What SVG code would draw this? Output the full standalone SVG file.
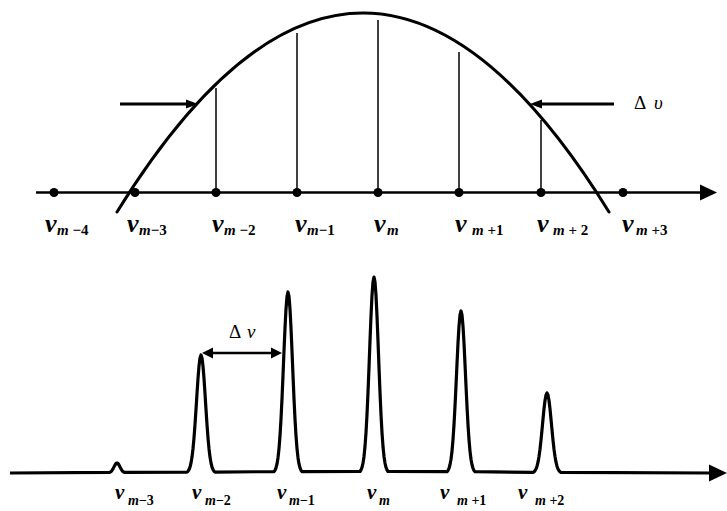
<svg xmlns="http://www.w3.org/2000/svg" width="727" height="511" viewBox="0 0 727 511">
<style>
.ax{stroke:#000;stroke-width:2.5;fill:none}
.thin{stroke:#000;stroke-width:1.5;fill:none}
.curve{stroke:#000;stroke-width:3;fill:none;stroke-linecap:round}
.spec{stroke:#000;stroke-width:3.2;fill:none;stroke-linejoin:round}
.arr{stroke:#000;stroke-width:3;fill:none}
.head{fill:#000;stroke:none}
.v{font-family:"Liberation Serif","Times New Roman",serif;font-style:italic;font-weight:bold;fill:#000}
.vt{font-size:26px}
.vb{font-size:21px}
.st{font-size:15px}
.sb{font-size:14px}
.n{font-style:normal}
.d{font-family:"Liberation Serif","Times New Roman",serif;font-size:19px;fill:#000}
.i{font-style:italic}
</style>

<g id="top-axis">
<line class="ax" x1="36" y1="192.5" x2="702" y2="192.5"/>
<polygon class="head" points="700,184.5 717,192.5 700,200.5"/>
<g fill="#000">
<circle cx="54" cy="192.5" r="4.5"/>
<circle cx="135" cy="192.5" r="4.5"/>
<circle cx="216" cy="192.5" r="4.5"/>
<circle cx="297" cy="192.5" r="4.5"/>
<circle cx="378" cy="192.5" r="4.5"/>
<circle cx="459" cy="192.5" r="4.5"/>
<circle cx="541" cy="192.5" r="4.5"/>
<circle cx="623" cy="192.5" r="4.5"/>
</g>
</g>

<g id="envelope">
<path class="curve" d="M117,212 Q363,-186 609,212"/>
<line class="thin" x1="216" y1="192" x2="216" y2="88"/>
<line class="thin" x1="297" y1="192" x2="297" y2="33"/>
<line class="thin" x1="378" y1="192" x2="378" y2="20"/>
<line class="thin" x1="459" y1="192" x2="459" y2="52"/>
<line class="thin" x1="541" y1="192" x2="541" y2="120"/>
</g>

<g id="connectors">
<line class="arr" x1="120" y1="104" x2="189" y2="104"/>
<polygon class="head" points="186,99.5 198,104 186,108.5"/>
<line class="arr" x1="614" y1="104" x2="539" y2="104"/>
<polygon class="head" points="542,99.5 530,104 542,108.5"/>
<line class="arr" x1="210" y1="353" x2="274" y2="353" style="stroke-width:2.5"/>
<polygon class="head" points="213,347.5 202,353 213,358.5"/>
<polygon class="head" points="271,347.5 282,353 271,358.5"/>
</g>

<g id="delta-labels">
<text class="d" x="634" y="109">Δ<tspan class="i" x="654">υ</tspan></text>
<text class="d" x="229" y="338">Δ<tspan class="i" x="247">ν</tspan></text>
</g>

<g id="top-labels">
<text class="v vt" x="45" y="232">ν</text><text class="v st" x="57" y="235">m <tspan class="n">−4</tspan></text>
<text class="v vt" x="127" y="232">ν</text><text class="v st" x="139" y="235">m<tspan class="n">−3</tspan></text>
<text class="v vt" x="212" y="232">ν</text><text class="v st" x="224" y="235">m <tspan class="n">−2</tspan></text>
<text class="v vt" x="295" y="232">ν</text><text class="v st" x="307" y="235">m<tspan class="n">−1</tspan></text>
<text class="v vt" x="374" y="232">ν</text><text class="v st" x="387" y="235">m</text>
<text class="v vt" x="455" y="232">ν</text><text class="v st" x="472" y="235">m <tspan class="n">+1</tspan></text>
<text class="v vt" x="537" y="232">ν</text><text class="v st" x="553" y="235">m <tspan class="n">+ 2</tspan></text>
<text class="v vt" x="622" y="232">ν</text><text class="v st" x="636" y="235">m <tspan class="n">+3</tspan></text>
</g>

<g id="spectrum">
<polyline class="spec" points="10,473 110,472.3 111,471.6 112,470.5 113,468.9 114,466.9 115,465 116,463.5 117,463 118,463.5 119,465 120,466.9 121,468.9 122,470.5 123,471.6 124,472.3 187,472.1 188,471.2 189,469.6 190,467.1 191,463 192,457.1 193,448.7 194,437.8 195,424.5 196,409.4 197,393.5 198,378.5 199,366.1 200,357.9 201,355 202,357.9 203,366.1 204,378.5 205,393.5 206,409.4 207,424.5 208,437.8 209,448.7 210,457.1 211,463 212,467.1 213,469.6 214,471.2 215,472.1 274,471.6 275,470.2 276,467.8 277,463.9 278,457.7 279,448.6 280,435.7 281,419.1 282,398.6 283,375.4 284,351 285,328 286,309 287,296.4 288,292 289,296.4 290,309 291,328 292,351 293,375.4 294,398.6 295,419.1 296,435.7 297,448.6 298,457.7 299,463.9 300,467.8 301,470.2 302,471.6 360,471.5 361,470 362,467.4 363,463.1 364,456.4 365,446.5 366,432.6 367,414.6 368,392.4 369,367.4 370,340.9 371,316 372,295.4 373,281.8 374,277 375,281.8 376,295.4 377,316 378,340.9 379,367.4 380,392.4 381,414.6 382,432.6 383,446.5 384,456.4 385,463.1 386,467.4 387,470 388,471.5 447,471.7 448,470.5 449,468.4 450,464.8 451,459.3 452,451.1 453,439.6 454,424.7 455,406.4 456,385.7 457,363.8 458,343.2 459,326.2 460,315 461,311 462,315 463,326.2 464,343.2 465,363.8 466,385.7 467,406.4 468,424.7 469,439.6 470,451.1 471,459.3 472,464.8 473,468.4 474,470.5 475,471.7 533,472.4 534,471.8 535,470.7 536,469 537,466.2 538,462.2 539,456.5 540,449.2 541,440.1 542,429.9 543,419.1 544,408.9 545,400.5 546,395 547,393 548,395 549,400.5 550,408.9 551,419.1 552,429.9 553,440.1 554,449.2 555,456.5 556,462.2 557,466.2 558,469 559,470.7 560,471.8 561,472.4 712,473"/>
<polygon class="head" points="709,464.5 727,473 709,481.5"/>
</g>

<g id="bottom-labels">
<text class="v vb" x="115" y="499">ν</text><text class="v sb" x="128" y="505">m<tspan class="n">−3</tspan></text>
<text class="v vb" x="192" y="499">ν</text><text class="v sb" x="205" y="505">m<tspan class="n">−2</tspan></text>
<text class="v vb" x="277" y="499">ν</text><text class="v sb" x="289" y="505">m<tspan class="n">−1</tspan></text>
<text class="v vb" x="367" y="499">ν</text><text class="v sb" x="379" y="505">m</text>
<text class="v vb" x="440" y="499">ν</text><text class="v sb" x="457" y="505">m <tspan class="n">+1</tspan></text>
<text class="v vb" x="518" y="499">ν</text><text class="v sb" x="535" y="505">m <tspan class="n">+2</tspan></text>
</g>
</svg>
